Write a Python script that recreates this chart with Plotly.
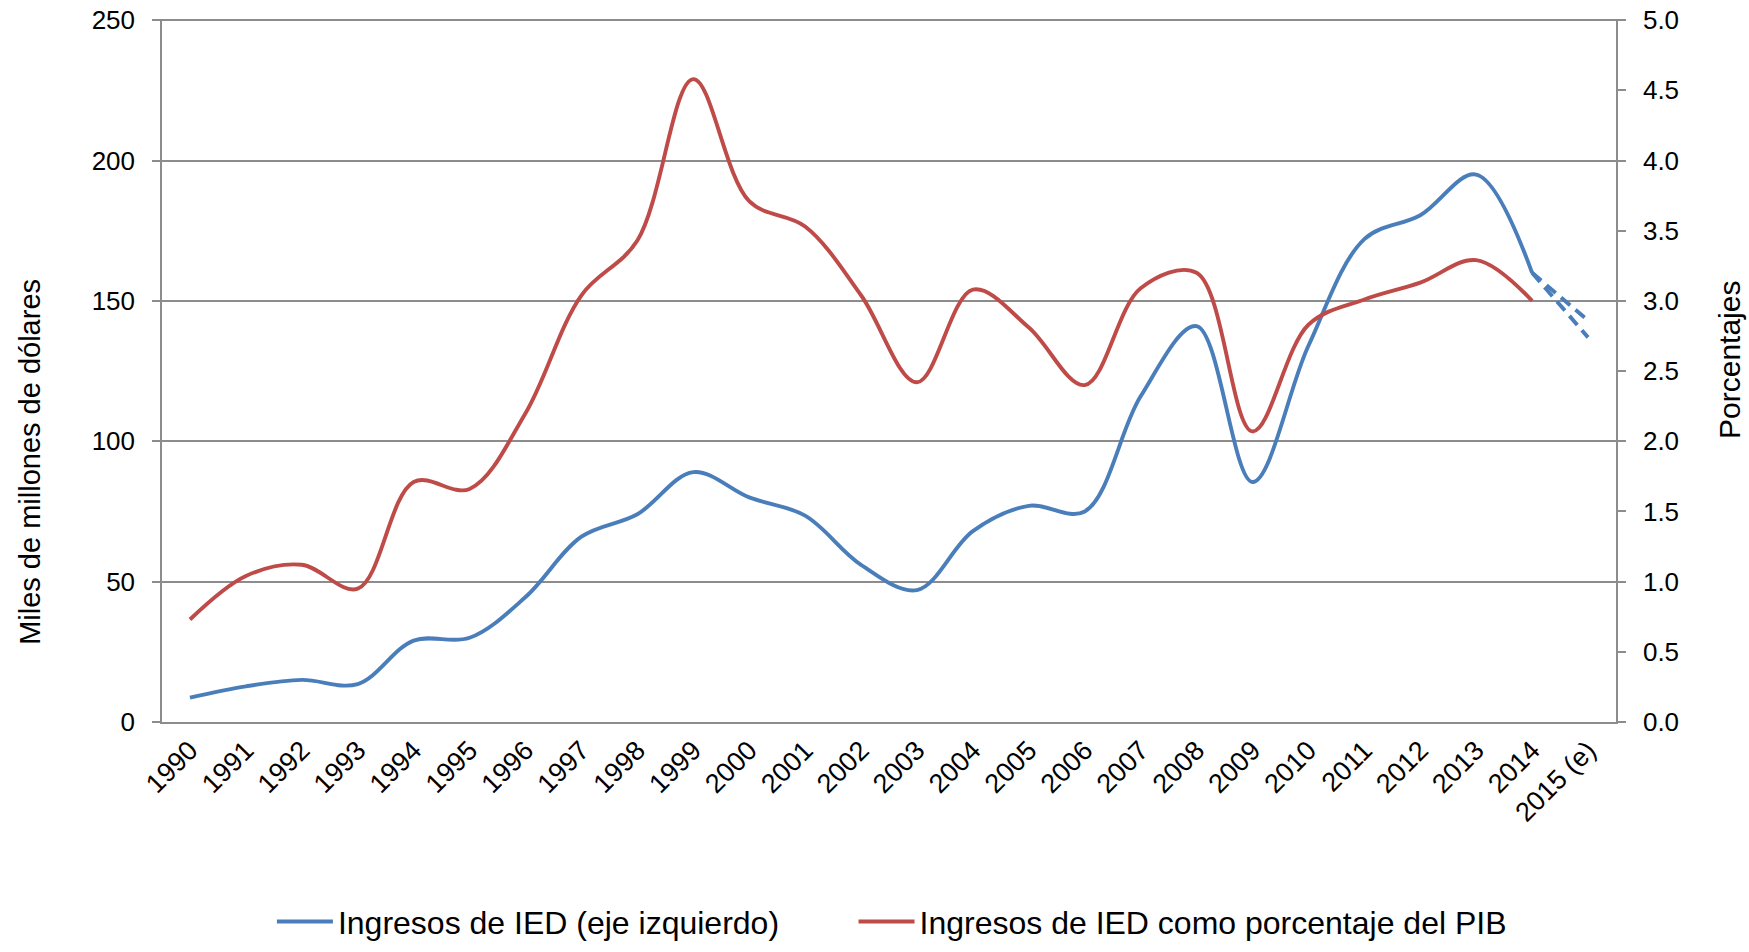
import plotly.graph_objects as go

years = ["1990", "1991", "1992", "1993", "1994", "1995", "1996", "1997", "1998", "1999",
         "2000", "2001", "2002", "2003", "2004", "2005", "2006", "2007", "2008", "2009",
         "2010", "2011", "2012", "2013", "2014", "2015 (e)"]

ied = [8.7, 12.7, 15.0, 13.5, 29, 30, 44.5, 66, 74, 89,
       80, 73.5, 56, 47, 68, 77, 75, 116, 141, 85.5,
       134, 172, 180.5, 195, 160]

ied_pct = [0.73, 1.04, 1.12, 0.95, 1.71, 1.66, 2.2, 3.04, 3.43, 4.58,
           3.71, 3.53, 3.04, 2.42, 3.08, 2.81, 2.4, 3.09, 3.2, 2.07,
           2.83, 3.01, 3.13, 3.29, 3.0]

est_x = ["2014", "2015 (e)"]
est_high = [160, 143]
est_low = [160, 137]

left_ticks = [0, 50, 100, 150, 200, 250]
right_ticks = [0.0, 0.5, 1.0, 1.5, 2.0, 2.5, 3.0, 3.5, 4.0, 4.5, 5.0]

BLUE = "#4A7EBB"
RED = "#BE4B48"
GRID = "#8C8C8C"
FONT = "Liberation Sans, Arial, sans-serif"

# a hair of headroom above the top tick so that its grid line is kept
PAD = 1.0016

fig = go.Figure()
fig.add_trace(go.Scatter(x=years[:len(ied)], y=ied, mode="lines", legend="legend",
                         line=dict(color=BLUE, width=3.9, shape="spline", smoothing=1.0),
                         name="Ingresos de IED (eje izquierdo)"))
fig.add_trace(go.Scatter(x=years[:len(ied_pct)], y=ied_pct, mode="lines", yaxis="y2",
                         legend="legend2",
                         line=dict(color=RED, width=3.9, shape="spline", smoothing=1.0),
                         name="Ingresos de IED como porcentaje del PIB"))
for est in (est_high, est_low):
    fig.add_trace(go.Scatter(x=est_x, y=est, mode="lines", showlegend=False,
                             line=dict(color=BLUE, width=3.9, dash="12px,7px")))

legend_style = dict(orientation="h", xanchor="left", y=-0.284, yanchor="middle",
                    font=dict(size=32), itemwidth=56, bgcolor="rgba(0,0,0,0)")

fig.update_layout(
    width=1749, height=952,
    margin=dict(l=162, r=133, t=19, b=230, autoexpand=False),
    paper_bgcolor="white", plot_bgcolor="white",
    font=dict(family=FONT, size=26, color="black"),
    xaxis=dict(type="category", categoryorder="array", categoryarray=years,
               range=[-0.5, 25.5], tickangle=-45, showgrid=False, automargin=False,
               showline=True, linecolor=GRID, linewidth=1.5, ticks="",
               tickfont=dict(size=27), zeroline=False),
    yaxis=dict(range=[0, left_ticks[-1] * PAD], tickmode="array", tickvals=left_ticks,
               showgrid=True, gridcolor=GRID, gridwidth=1.5,
               showline=True, linecolor=GRID, linewidth=1.5, ticks="outside",
               ticklen=8, tickcolor=GRID, tickwidth=1.5, zeroline=False, automargin=False,
               ticklabelstandoff=12, tickfont=dict(size=26), ticklabeloverflow="allow"),
    yaxis2=dict(range=[0, right_ticks[-1] * PAD], tickmode="array", tickvals=right_ticks,
                tickformat=".1f", overlaying="y", side="right",
                showgrid=False, showline=True, linecolor=GRID, linewidth=1.5,
                ticks="outside", ticklen=8, tickcolor=GRID, tickwidth=1.5, automargin=False,
                zeroline=False, ticklabelstandoff=12, tickfont=dict(size=26),
                ticklabeloverflow="allow"),
    legend=dict(x=0.0756, **legend_style),
    legend2=dict(x=0.4756, **legend_style),
    annotations=[
        dict(text="Miles de millones de dólares", xref="paper", yref="paper",
             x=-0.0908, y=0.370, textangle=-90, showarrow=False,
             xanchor="center", yanchor="middle", font=dict(size=29)),
        dict(text="Porcentajes", xref="paper", yref="paper",
             x=1.0784, y=0.515, textangle=-90, showarrow=False,
             xanchor="center", yanchor="middle", font=dict(size=30)),
    ],
)

fig.write_html("out.html", config={"displayModeBar": False},
               post_script="document.body.style.margin='0';document.body.style.overflow='hidden';")
